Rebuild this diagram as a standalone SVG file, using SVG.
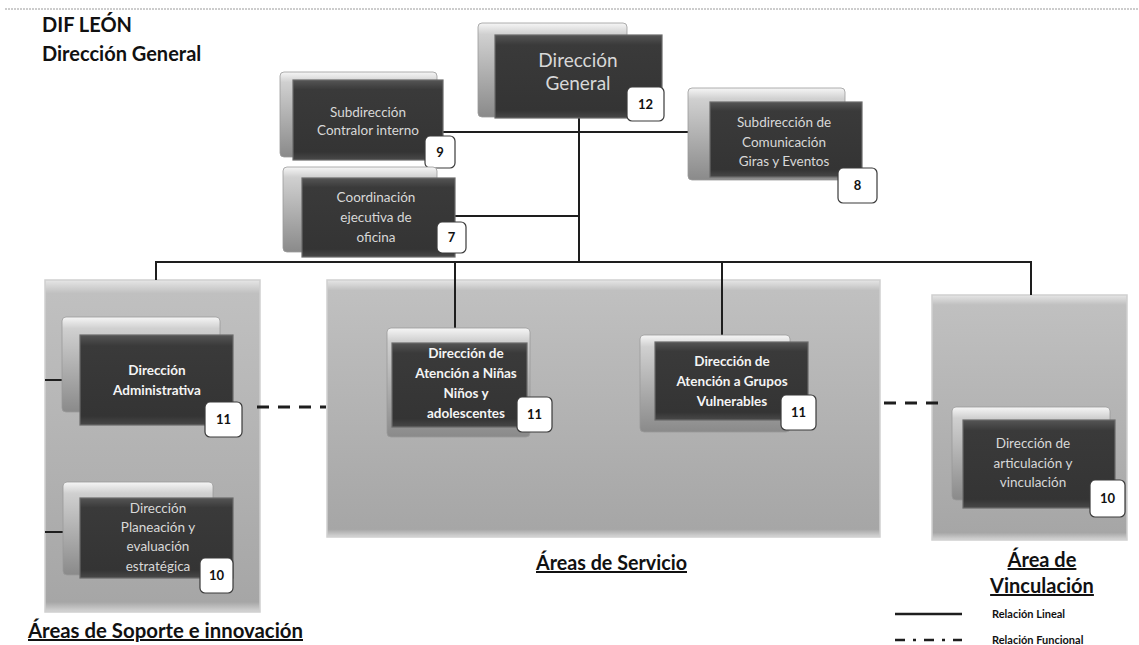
<svg xmlns="http://www.w3.org/2000/svg" width="1139" height="645" viewBox="0 0 1139 645">
<defs>
<linearGradient id="backG" x1="0" y1="0" x2="0" y2="1">
<stop offset="0" stop-color="#f6f6f6"/>
<stop offset="0.12" stop-color="#d0d0d0"/>
<stop offset="1" stop-color="#8a8a8a"/>
</linearGradient>
<linearGradient id="darkG" x1="0" y1="0" x2="0" y2="1">
<stop offset="0" stop-color="#555555"/>
<stop offset="0.12" stop-color="#3a3a3a"/>
<stop offset="0.9" stop-color="#343434"/>
<stop offset="1" stop-color="#484848"/>
</linearGradient>
<linearGradient id="panelG" x1="0" y1="0" x2="0" y2="1">
<stop offset="0" stop-color="#e6e6e6"/>
<stop offset="0.04" stop-color="#c0c0c0"/>
<stop offset="0.97" stop-color="#a6a6a6"/>
<stop offset="1" stop-color="#d6d6d6"/>
</linearGradient>
</defs>
<style>
.back{fill:url(#backG);stroke:#9a9a9a;stroke-width:0.8}
.front{fill:url(#darkG);stroke:#6a6a6a;stroke-width:1.2}
.panel{fill:url(#panelG);stroke:#cfcfcf;stroke-width:1.5}
.badge{fill:#ffffff;stroke:#3a3a3a;stroke-width:1.2}
.bt{font-family:Lato,"Open Sans",sans-serif;font-weight:bold;font-size:13px;fill:#111;text-anchor:middle}
.lt{font-family:Lato,"Open Sans",sans-serif;font-size:13.5px;fill:#d8d8d8;text-anchor:middle}
.wt{font-family:Lato,"Open Sans",sans-serif;font-weight:bold;font-size:13.5px;fill:#f4f4f4;text-anchor:middle}
.hd{font-family:Lato,"Open Sans",sans-serif;font-weight:bold;font-size:20px;fill:#111;text-decoration:underline}
.ttl{font-family:Lato,"Open Sans",sans-serif;font-weight:bold;font-size:20px;fill:#111}
.lg{font-family:Lato,"Open Sans",sans-serif;font-weight:bold;font-size:11px;fill:#111}
.ln{stroke:#1e1e1e;stroke-width:2;fill:none}
.fn{stroke:#1e1e1e;stroke-width:3;fill:none;stroke-dasharray:12 9}
</style>
<rect width="1139" height="645" fill="#ffffff"/>
<line x1="5" y1="9" x2="1139" y2="9" stroke="#9a9a9a" stroke-width="1" stroke-dasharray="2 1"/>
<text class="ttl" x="42" y="32">DIF LEÓN</text>
<text class="ttl" x="42" y="61">Dirección General</text>

<g id="panels">
<rect id="panel-soporte" class="panel" x="45" y="280" width="215" height="332"/>
<rect id="panel-servicio" class="panel" x="327" y="280" width="553" height="257"/>
<rect id="panel-vinculacion" class="panel" x="932" y="295" width="195" height="245"/>
</g>

<g id="connectors">
<line class="ln" x1="579" y1="118" x2="579" y2="262"/>
<line class="ln" x1="443" y1="132" x2="688" y2="132"/>
<line class="ln" x1="455" y1="216" x2="579" y2="216"/>
<polyline class="ln" points="156,280 156,262 1031,262 1031,295"/>
<line class="ln" x1="455" y1="262" x2="455" y2="328"/>
<line class="ln" x1="722" y1="262" x2="722" y2="335"/>
<line class="ln" x1="45" y1="380" x2="63" y2="380"/>
<line class="ln" x1="45" y1="532" x2="63" y2="532"/>
<line class="fn" x1="257" y1="407" x2="326" y2="407"/>
<line class="fn" x1="884" y1="403" x2="940" y2="403"/>
</g>

<g id="n-direccion-general">
<rect class="back" x="478" y="23" width="149" height="94" rx="4"/>
<rect class="front" x="495" y="35" width="167" height="83"/>
<text class="lt" x="578" y="67" style="font-size:19px">Dirección</text>
<text class="lt" x="578" y="90" style="font-size:19px">General</text>
<rect class="badge" x="627" y="87" width="37" height="34" rx="5"/>
<text class="bt" x="645.5" y="109">12</text>
</g>

<g id="n-contralor">
<rect class="back" x="280" y="72" width="157" height="85" rx="4"/>
<rect class="front" x="293" y="80" width="150" height="80"/>
<text class="lt" x="368" y="117">Subdirección</text>
<text class="lt" x="368" y="135">Contralor interno</text>
<rect class="badge" x="425" y="136" width="30" height="32" rx="5"/>
<text class="bt" x="440" y="157">9</text>
</g>

<g id="n-comunicacion">
<rect class="back" x="688" y="88" width="157" height="92" rx="4"/>
<rect class="front" x="710" y="102" width="152" height="75"/>
<text class="lt" x="784" y="127">Subdirección de</text>
<text class="lt" x="784" y="147">Comunicación</text>
<text class="lt" x="784" y="166">Giras y Eventos</text>
<rect class="badge" x="838" y="168" width="39" height="35" rx="5"/>
<text class="bt" x="857.5" y="190">8</text>
</g>

<g id="n-coordinacion">
<rect class="back" x="283" y="167" width="154" height="85" rx="4"/>
<rect class="front" x="302" y="178" width="153" height="79"/>
<text class="lt" x="376" y="202">Coordinación</text>
<text class="lt" x="376" y="222">ejecutiva de</text>
<text class="lt" x="376" y="242">oficina</text>
<rect class="badge" x="437" y="222" width="29" height="31" rx="5"/>
<text class="bt" x="451.5" y="242">7</text>
</g>

<g id="n-administrativa">
<rect class="back" x="62" y="317" width="158" height="95" rx="4"/>
<rect class="front" x="80" y="335" width="153" height="90"/>
<text class="wt" x="157" y="375">Dirección</text>
<text class="wt" x="157" y="395">Administrativa</text>
<rect class="badge" x="205" y="402" width="37" height="35" rx="5"/>
<text class="bt" x="223.5" y="424">11</text>
</g>

<g id="n-planeacion">
<rect class="back" x="63" y="482" width="150" height="93" rx="4"/>
<rect class="front" x="80" y="498" width="153" height="80"/>
<text class="lt" x="158" y="513">Dirección</text>
<text class="lt" x="158" y="532">Planeación y</text>
<text class="lt" x="158" y="551">evaluación</text>
<text class="lt" x="158" y="571">estratégica</text>
<rect class="badge" x="200" y="558" width="33" height="35" rx="5"/>
<text class="bt" x="216.5" y="580">10</text>
</g>

<g id="n-ninas">
<rect class="back" x="387" y="328" width="143" height="109" rx="4"/>
<rect class="front" x="392" y="343" width="135" height="84"/>
<text class="wt" x="466" y="358">Dirección de</text>
<text class="wt" x="466" y="378">Atención a Niñas</text>
<text class="wt" x="466" y="398">Niños y</text>
<text class="wt" x="466" y="418">adolescentes</text>
<rect class="badge" x="517" y="397" width="35" height="35" rx="5"/>
<text class="bt" x="534.5" y="419">11</text>
</g>

<g id="n-grupos">
<rect class="back" x="640" y="335" width="150" height="97" rx="4"/>
<rect class="front" x="655" y="342" width="153" height="78"/>
<text class="wt" x="732" y="366">Dirección de</text>
<text class="wt" x="732" y="386">Atención a Grupos</text>
<text class="wt" x="732" y="406">Vulnerables</text>
<rect class="badge" x="781" y="395" width="35" height="35" rx="5"/>
<text class="bt" x="798.5" y="417">11</text>
</g>

<g id="n-articulacion">
<rect class="back" x="952" y="407" width="158" height="93" rx="4"/>
<rect class="front" x="963" y="420" width="152" height="88"/>
<text class="lt" x="1033" y="448">Dirección de</text>
<text class="lt" x="1033" y="468">articulación y</text>
<text class="lt" x="1033" y="487">vinculación</text>
<rect class="badge" x="1090" y="480" width="35" height="37" rx="5"/>
<text class="bt" x="1107.5" y="503">10</text>
</g>

<g id="labels">
<text class="hd" x="28" y="638" textLength="275" lengthAdjust="spacingAndGlyphs">Áreas de Soporte e innovación</text>
<text class="hd" x="536" y="570" textLength="151" lengthAdjust="spacingAndGlyphs">Áreas de Servicio</text>
<text class="hd" x="1042" y="567" text-anchor="middle">Área de</text>
<text class="hd" x="1042" y="593" text-anchor="middle">Vinculación</text>
</g>

<g id="legend">
<line x1="895" y1="614" x2="962" y2="614" stroke="#1e1e1e" stroke-width="2.5"/>
<text class="lg" x="992" y="618">Relación Lineal</text>
<line x1="895" y1="640" x2="962" y2="640" stroke="#1e1e1e" stroke-width="2.5" stroke-dasharray="10 8 3 8"/>
<text class="lg" x="992" y="644">Relación Funcional</text>
</g>
</svg>
